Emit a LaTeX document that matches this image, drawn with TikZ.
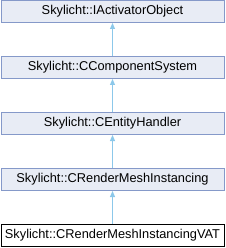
\documentclass[tikz,border=0pt]{standalone}
\usepackage{fontspec}
\setmainfont{Liberation Sans}
\usetikzlibrary{arrows.meta}
\definecolor{boxfill}{HTML}{E8ECF5}
\definecolor{boxdraw}{HTML}{8599C9}
\definecolor{arr}{HTML}{8CC8EA}
\begin{document}
\begin{tikzpicture}[x=1pt,y=1pt,
  cls/.style={draw=boxdraw,fill=boxfill,line width=1pt,minimum width=223pt,minimum height=22pt,inner sep=0pt,font=\fontsize{12.8}{14}\selectfont},
  cur/.style={cls,draw=black,fill=white},
  inh/.style={draw=arr,line width=1pt,-{Triangle[width=5pt,length=6pt]}}]
\useasboundingbox (0,0) rectangle (225,-248);
\node[cls] (a) at (112.5,-11.5) {Skylicht::IActivatorObject};
\node[cls] (b) at (112.5,-67.5) {Skylicht::CComponentSystem};
\node[cls] (c) at (112.5,-123.5) {Skylicht::CEntityHandler};
\node[cls] (d) at (112.5,-179.5) {Skylicht::CRenderMeshInstancing};
\node[cur] (e) at (112.5,-235.5) {Skylicht::CRenderMeshInstancingVAT};
\draw[inh] (b.north) -- (a.south);
\draw[inh] (c.north) -- (b.south);
\draw[inh] (d.north) -- (c.south);
\draw[inh] (e.north) -- (d.south);
\end{tikzpicture}
\end{document}
